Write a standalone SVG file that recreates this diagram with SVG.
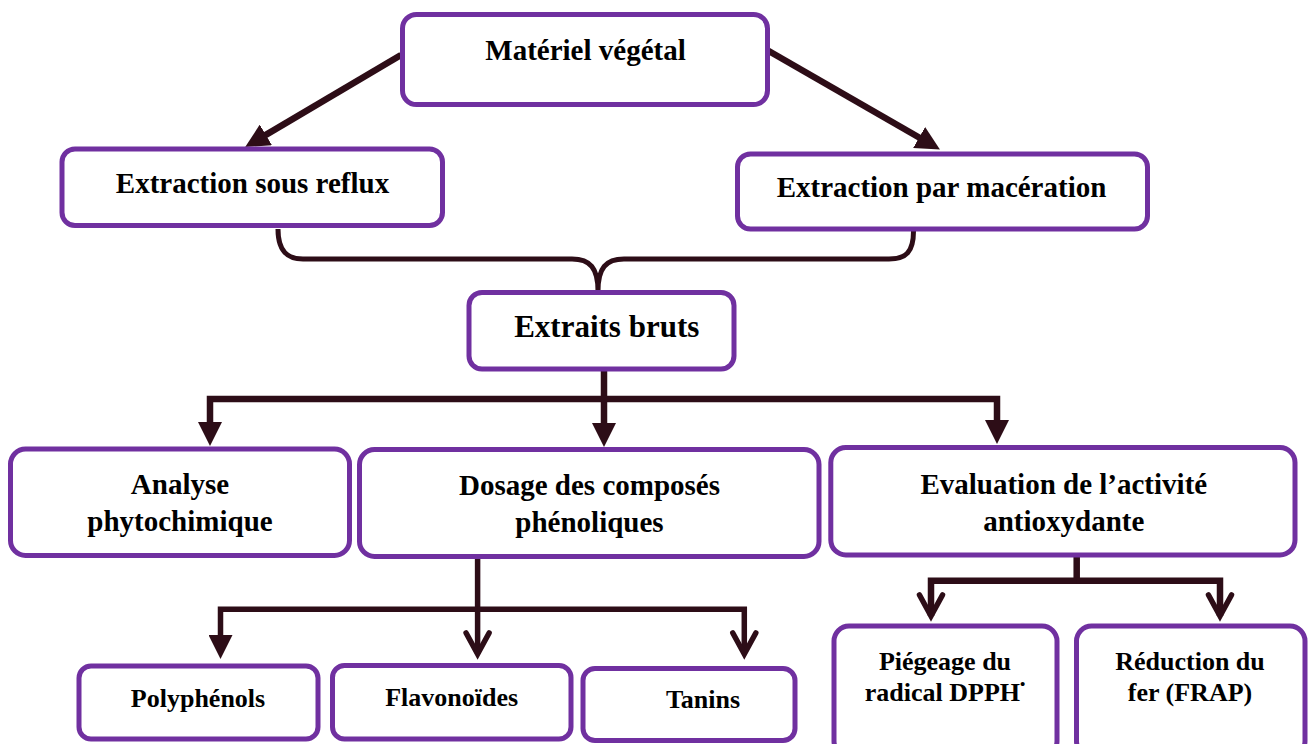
<svg xmlns="http://www.w3.org/2000/svg" width="1314" height="744" viewBox="0 0 1314 744">
<style>
.box{fill:#ffffff;stroke:#7030a0;stroke-width:5}
.t{font-family:"Liberation Serif","Times New Roman",serif;font-weight:bold;fill:#000;text-anchor:middle}
.f29{font-size:29px}
.f31{font-size:31px}
.f26{font-size:26px}
.c{fill:none;stroke:#2d0d17;stroke-linejoin:miter}
.w6{stroke-width:6.5}
.w5{stroke-width:5.5}
</style>
<defs>
<marker id="tri" viewBox="0 0 24 24" refX="1" refY="12" markerWidth="24" markerHeight="24" markerUnits="userSpaceOnUse" orient="auto">
<path d="M0,0 L24,12 L0,24 Z" fill="#2d0d17"/>
</marker>
<marker id="chev" viewBox="0 0 30 30" refX="24" refY="15" markerWidth="30" markerHeight="30" markerUnits="userSpaceOnUse" orient="auto" overflow="visible">
<path d="M3,3.5 L24,15 L3,26.5" fill="none" stroke="#2d0d17" stroke-width="5.5" stroke-linecap="round" stroke-linejoin="miter"/>
</marker>
</defs>
<g id="connectors">
<path class="c w6" d="M401,55 L265,135.4" marker-end="url(#tri)"/>
<path class="c w6" d="M767,50 L920,138" marker-end="url(#tri)"/>
<path class="c" stroke-width="5" d="M278,229 C278,252 288,259 303,259 L572,259 C590,259 598,268 598,291 M598,291 C598,268 606,259 624,259 L889,259 C906,259 913.5,252 913.5,231"/>
<path class="c w6" d="M604,370 V424" marker-end="url(#tri)"/>
<path class="c w6" d="M604,399 H210 V423" marker-end="url(#tri)"/>
<path class="c w6" d="M604,399 H997 V421" marker-end="url(#tri)"/>
<path class="c w5" d="M477.6,557 V654" marker-end="url(#chev)"/>
<path class="c w5" d="M477.6,609.3 H220.5 V636" marker-end="url(#tri)"/>
<path class="c w5" d="M477.6,609.3 H744.3 V654" marker-end="url(#chev)"/>
<path class="c w6" d="M1076.7,556 V580.7 H931 V616" marker-end="url(#chev)"/>
<path class="c w6" d="M1076.7,580.7 H1220 V616" marker-end="url(#chev)"/>
</g>
<g id="materiel">
<rect class="box" x="402.5" y="14.5" width="365" height="90" rx="14"/>
<text class="t f29" x="585.5" y="60">Matériel végétal</text>
</g>
<g id="reflux">
<rect class="box" x="62" y="149" width="380.5" height="76.5" rx="13"/>
<text class="t f29" x="252.5" y="193">Extraction sous reflux</text>
</g>
<g id="maceration">
<rect class="box" x="737.5" y="154" width="410" height="75" rx="13"/>
<text class="t f29" x="941.5" y="197">Extraction par macération</text>
</g>
<g id="extraits">
<rect class="box" x="469" y="292.5" width="265" height="76.5" rx="13"/>
<text class="t f31" x="606.7" y="337">Extraits bruts</text>
</g>
<g id="analyse">
<rect class="box" x="10.5" y="449" width="339" height="106.5" rx="15"/>
<text class="t f29" x="180" y="494">Analyse</text>
<text class="t f29" x="180" y="531">phytochimique</text>
</g>
<g id="dosage">
<rect class="box" x="359.5" y="449.5" width="459.5" height="107" rx="15"/>
<text class="t f29" x="589.5" y="495">Dosage des composés</text>
<text class="t f29" x="589.5" y="532">phénoliques</text>
</g>
<g id="evaluation">
<rect class="box" x="830.8" y="447.5" width="464.2" height="107.5" rx="15"/>
<text class="t f29" x="1063.8" y="494">Evaluation de l’activité</text>
<text class="t f29" x="1063.8" y="531">antioxydante</text>
</g>
<g id="polyphenols">
<rect class="box" x="79" y="666" width="239" height="73" rx="12"/>
<text class="t f26" x="198" y="707">Polyphénols</text>
</g>
<g id="flavonoides">
<rect class="box" x="332.5" y="665.5" width="238.5" height="73.5" rx="12"/>
<text class="t f26" x="451.7" y="706">Flavonoïdes</text>
</g>
<g id="tanins">
<rect class="box" x="583" y="668.5" width="212" height="72" rx="12"/>
<text class="t f26" x="703" y="708">Tanins</text>
</g>
<g id="dpph">
<rect class="box" x="834" y="626" width="223" height="130" rx="15"/>
<text class="t f26" x="945" y="670">Piégeage du</text>
<text class="t f26" x="945" y="701">radical DPPH<tspan font-size="15" dy="-12">•</tspan></text>
</g>
<g id="frap">
<rect class="box" x="1076.5" y="626" width="228.5" height="130" rx="15"/>
<text class="t f26" x="1190" y="670">Réduction du</text>
<text class="t f26" x="1190" y="701">fer (FRAP)</text>
</g>
</svg>
